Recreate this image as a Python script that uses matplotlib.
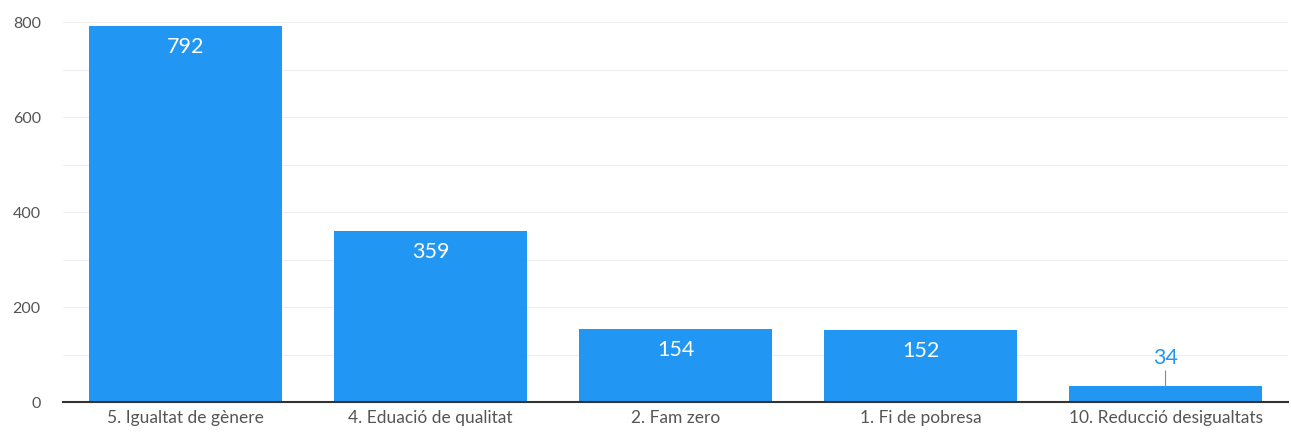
import matplotlib.pyplot as plt
from matplotlib.ticker import MultipleLocator

categories = [
    "5. Igualtat de gènere",
    "4. Eduació de qualitat",
    "2. Fam zero",
    "1. Fi de pobresa",
    "10. Reducció desigualtats",
]
values = [792, 359, 154, 152, 34]

plt.rcParams["font.family"] = ["Lato", "DejaVu Sans"]

blue = "#2196F3"

fig = plt.figure(figsize=(12.91, 4.34), dpi=100)
ax = fig.add_axes([0.0488, 0.0737, 0.9489, 0.8756])

x = range(len(categories))
ax.bar(x, values, width=0.79, color=blue, zorder=2)

for i, v in enumerate(values):
    if v > 100:
        ax.annotate(str(v), (i, v), xytext=(0, -15), textcoords="offset points",
                    ha="center", va="center", color="white", fontsize=15.5)
    else:
        # small bar: label sits above with a thin leader line
        ax.annotate(str(v), (i, v), xytext=(0, 20), textcoords="offset points",
                    ha="center", va="center", color=blue, fontsize=15.5,
                    arrowprops=dict(arrowstyle="-", color="#888888", lw=0.8,
                                    shrinkA=0, shrinkB=0))

ax.set_xlim(-0.5, len(categories) - 0.5)
ax.set_ylim(0, 800)
ax.set_xticks(list(x))
ax.set_xticklabels(categories, fontsize=12.5, color="#555555")
ax.yaxis.set_major_locator(MultipleLocator(200))
ax.yaxis.set_minor_locator(MultipleLocator(100))
ax.tick_params(axis="y", labelsize=11.5, colors="#555555", length=0, which="both", pad=16)
ax.tick_params(axis="x", length=0, pad=6)
ax.grid(axis="y", which="both", color="#eeeeee", lw=0.8, zorder=0)

for side in ["top", "right", "left"]:
    ax.spines[side].set_visible(False)
ax.spines["bottom"].set_color("#333333")
ax.spines["bottom"].set_linewidth(1.5)
ax.spines["bottom"].set_zorder(3)

fig.savefig("out.png", dpi=100)
